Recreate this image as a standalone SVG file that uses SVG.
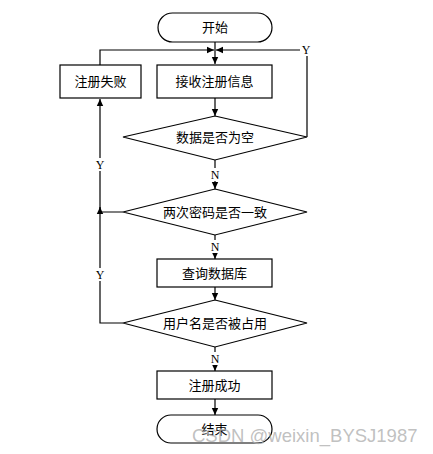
<svg xmlns="http://www.w3.org/2000/svg" width="433" height="454" viewBox="0 0 433 454">
<style>
.s{fill:#fff;stroke:#000;stroke-width:1.2}
.t{font-family:"Liberation Serif","Noto Sans CJK SC",serif;font-size:13px;fill:#000;text-anchor:middle;dominant-baseline:central}
.l{font-family:"Liberation Serif",serif;font-size:12px;fill:#000;text-anchor:middle;dominant-baseline:central}
.c{fill:none;stroke:#000;stroke-width:1.2}
</style>
<defs>
<marker id="a" markerWidth="8" markerHeight="8" refX="7" refY="4" orient="auto" markerUnits="userSpaceOnUse">
<path d="M0,0.8 L7,4 L0,7.2 Z" fill="#000"/>
</marker>
</defs>
<rect width="433" height="454" fill="#fff"/>
<g id="connectors">
<line class="c" x1="215" y1="42" x2="215" y2="64" marker-end="url(#a)"/>
<polyline class="c" points="100,65 100,50 214,50" marker-end="url(#a)"/>
<polyline class="c" points="307,137 307,50 216,50" marker-end="url(#a)"/>
<line class="c" x1="215" y1="98" x2="215" y2="116" marker-end="url(#a)"/>
<line class="c" x1="215" y1="160" x2="215" y2="189" marker-end="url(#a)"/>
<line class="c" x1="215" y1="235" x2="215" y2="259" marker-end="url(#a)"/>
<line class="c" x1="215" y1="287" x2="215" y2="300" marker-end="url(#a)"/>
<line class="c" x1="215" y1="347" x2="215" y2="371" marker-end="url(#a)"/>
<line class="c" x1="215" y1="399" x2="215" y2="415" marker-end="url(#a)"/>
<polyline class="c" points="123,212 100,212 100,207" marker-end="url(#a)"/>
<polyline class="c" points="123,323 100,323 100,99" marker-end="url(#a)"/>
</g>
<g id="labels">
<rect x="300" y="43" width="12" height="13" fill="#fff"/>
<text class="l" x="306" y="50">Y</text>
<rect x="209" y="168" width="12" height="13" fill="#fff"/>
<text class="l" x="215" y="175">N</text>
<rect x="209" y="240" width="12" height="13" fill="#fff"/>
<text class="l" x="215" y="247">N</text>
<rect x="209" y="352" width="12" height="13" fill="#fff"/>
<text class="l" x="215" y="359">N</text>
<rect x="94" y="158" width="12" height="13" fill="#fff"/>
<text class="l" x="100" y="165">Y</text>
<rect x="94" y="268" width="12" height="13" fill="#fff"/>
<text class="l" x="100" y="275">Y</text>
</g>
<g id="start">
<rect class="s" x="158" y="13" width="114" height="29" rx="14.5"/>
<text class="t" x="215" y="27.5">开始</text>
</g>
<g id="fail">
<rect class="s" x="60" y="65" width="81" height="33"/>
<text class="t" x="100.5" y="81.5">注册失败</text>
</g>
<g id="receive">
<rect class="s" x="157" y="65" width="115" height="33"/>
<text class="t" x="214.5" y="81.5">接收注册信息</text>
</g>
<g id="empty">
<polygon class="s" points="215,116 307,137 215,160 123,137"/>
<text class="t" x="215" y="137">数据是否为空</text>
</g>
<g id="match">
<polygon class="s" points="215,189 307,212 215,235 123,212"/>
<text class="t" x="215" y="212">两次密码是否一致</text>
</g>
<g id="query">
<rect class="s" x="157" y="259" width="115" height="28"/>
<text class="t" x="214.5" y="273">查询数据库</text>
</g>
<g id="taken">
<polygon class="s" points="215,300 307,323 215,347 123,323"/>
<text class="t" x="215" y="323">用户名是否被占用</text>
</g>
<g id="success">
<rect class="s" x="157" y="371" width="115" height="28"/>
<text class="t" x="214.5" y="385">注册成功</text>
</g>
<g id="end">
<rect class="s" x="157" y="415" width="115" height="28" rx="14"/>
<text class="t" x="214.5" y="429">结束</text>
</g>
<text x="192" y="442" font-family="Liberation Sans,Arial,sans-serif" font-size="18.5" fill="#b0b0b0" fill-opacity="0.8">CSDN @weixin_BYSJ1987</text>
</svg>
